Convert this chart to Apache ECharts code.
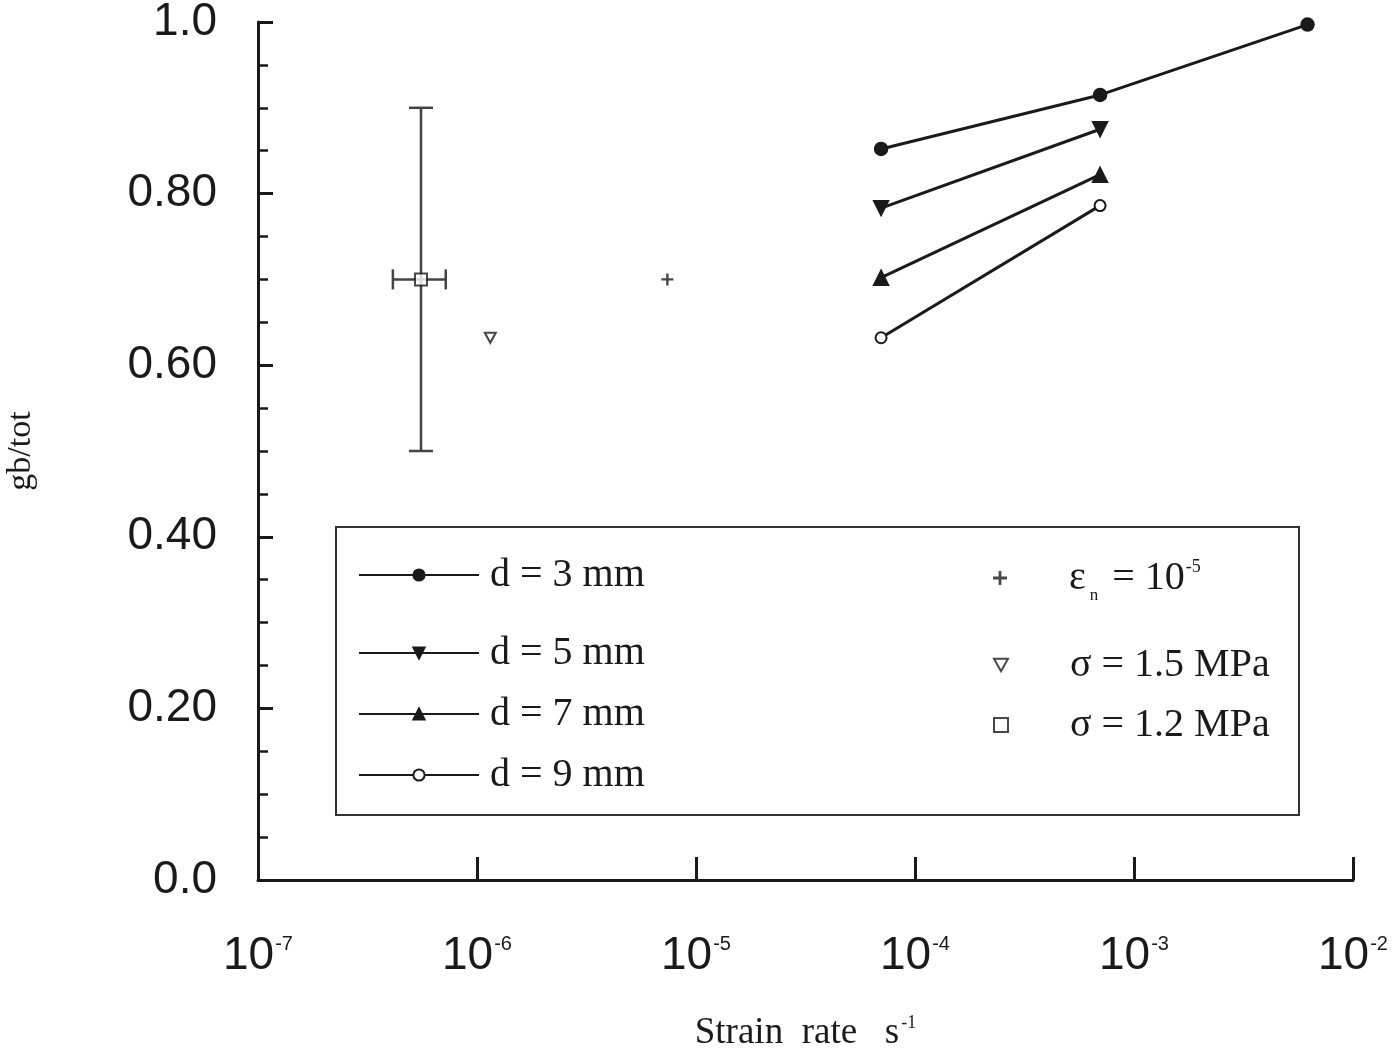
<!DOCTYPE html>
<html>
<head>
<meta charset="utf-8">
<script src="https://cdn.jsdelivr.net/npm/echarts@6/dist/echarts.min.js"></script>
<style>
  html, body { margin: 0; padding: 0; background: #fff; }
  #main { width: 1400px; height: 1057px; }
</style>
</head>
<body>
<div id="main"></div>
<script>
// 数据：应变率 (s^-1) 与 gb/tot
var rates = [7.0e-5, 7.0e-4, 6.2e-3];
var d3mm = [0.852, 0.915, 0.997];
var d5mm = [0.783, 0.875];
var d7mm = [0.702, 0.822];
var d9mm = [0.632, 0.786];

var plusPoint = [7.4e-6, 0.70];        // ε_n = 10^-5
var sigma15Point = [1.15e-6, 0.632];   // σ = 1.5 MPa
var sigma12Point = [5.55e-7, 0.70];    // σ = 1.2 MPa
var sigma12ErrX = [4.13e-7, 7.2e-7];
var sigma12ErrY = [0.50, 0.90];

var xTickExps = ['-7', '-6', '-5', '-4', '-3', '-2'];
var yTickLabels = ['0.0', '0.20', '0.40', '0.60', '0.80', '1.0'];

var ink = '#1a1a1a';
var serif = '"Liberation Serif", "DejaVu Serif", serif';
var sans = '"Liberation Sans", Arial, sans-serif';

function pairs(xs, ys) {
  var out = [];
  for (var i = 0; i < ys.length; i++) out.push([xs[i], ys[i]]);
  return out;
}

function lineSeries(name, ys, symbol, size, rotate) {
  return {
    name: name,
    type: 'line',
    data: pairs(rates, ys),
    symbol: symbol,
    symbolSize: size,
    symbolRotate: rotate || 0,
    showAllSymbol: true,
    color: ink,
    lineStyle: { color: ink, width: 3 },
    itemStyle: { color: ink, borderColor: ink, borderWidth: 1.5 },
    z: 3
  };
}

var legendText = {
  fontFamily: serif,
  fontSize: 40,
  color: ink
};

function oneLegend(name, top) {
  return {
    data: [name],
    left: 358,
    top: top,
    itemWidth: 120,
    itemHeight: 14,
    selectedMode: false,
    padding: 0,
    textStyle: Object.assign({}, legendText, { padding: [0, 0, 0, 6] })
  };
}

function rightLegend(name, top, extra) {
  var lg = {
    data: [name],
    left: 993,
    top: top,
    itemWidth: 14,
    itemHeight: 14,
    selectedMode: false,
    padding: 0,
    textStyle: Object.assign({}, legendText, { padding: [0, 0, 0, 57] })
  };
  if (extra) Object.assign(lg, extra);
  return lg;
}

var chart = echarts.init(document.getElementById('main'));

chart.setOption({
  backgroundColor: '#fff',
  animation: false,
  grid: { left: 258, right: 47, top: 22, bottom: 177, outerBoundsMode: 'none', containLabel: false },
  graphic: [{
    type: 'rect',
    shape: { x: 336, y: 527, width: 963, height: 288 },
    style: { fill: 'none', stroke: '#333', lineWidth: 2 },
    z: 1
  }],
  legend: [
    oneLegend('d = 3 mm', 555),
    oneLegend('d = 5 mm', 633),
    oneLegend('d = 7 mm', 694),
    oneLegend('d = 9 mm', 755),
    rightLegend('plus', 552, {
      formatter: function () {
        return '{m|ε}{n|n}{m| = 10}{e|-5}';
      },
      textStyle: Object.assign({}, legendText, {
        padding: [0, 0, 0, 57],
        rich: {
          m: { fontFamily: serif, fontSize: 40, color: ink, lineHeight: 52 },
          n: { fontFamily: serif, fontSize: 17, color: ink, lineHeight: 17, verticalAlign: 'bottom', padding: [0, 4, 0, 4] },
          e: { fontFamily: serif, fontSize: 18, color: ink, lineHeight: 18, verticalAlign: 'top', padding: [6, 0, 0, 1] }
        }
      })
    }),
    rightLegend('σ = 1.5 MPa', 645),
    rightLegend('σ = 1.2 MPa', 705)
  ],
  xAxis: {
    type: 'log',
    logBase: 10,
    min: 1e-7,
    max: 1e-2,
    splitLine: { show: false },
    axisLine: { onZero: false, lineStyle: { color: ink, width: 3 } },
    axisTick: { inside: true, length: 23, lineStyle: { color: ink, width: 3 } },
    axisLabel: {
      margin: 51,
      formatter: function (v) {
        var exp = Math.round(Math.log10(v));
        return '{b|10}{s|' + xTickExps[exp + 7] + '}';
      },
      rich: {
        b: { fontFamily: sans, fontSize: 46, color: ink, lineHeight: 50 },
        s: { fontFamily: sans, fontSize: 20, color: ink, lineHeight: 20, verticalAlign: 'top', padding: [3, 0, 0, 1] }
      }
    },
    name: '{t|Strain  rate   s}{e|-1}',
    nameLocation: 'middle',
    nameGap: 133,
    nameTextStyle: {
      rich: {
        t: { fontFamily: serif, fontSize: 37, color: ink, lineHeight: 40 },
        e: { fontFamily: serif, fontSize: 18, color: ink, lineHeight: 18, verticalAlign: 'top', padding: [1, 0, 0, 2] }
      }
    }
  },
  yAxis: {
    type: 'value',
    min: 0,
    max: 1,
    interval: 0.2,
    splitLine: { show: false },
    axisLine: { lineStyle: { color: ink, width: 3 } },
    axisTick: { inside: true, length: 15, lineStyle: { color: ink, width: 3 } },
    minorTick: { show: true, splitNumber: 4, length: 10, lineStyle: { color: ink, width: 2.5 } },
    axisLabel: {
      margin: 41,
      fontFamily: sans,
      fontSize: 46,
      color: ink,
      formatter: function (v) {
        return yTickLabels[Math.round(v / 0.2)];
      }
    },
    name: 'gb/tot',
    nameLocation: 'middle',
    nameGap: 220,
    nameTextStyle: { fontFamily: serif, fontSize: 34, color: ink }
  },
  series: [
    lineSeries('d = 3 mm', d3mm, 'circle', 13),
    lineSeries('d = 5 mm', d5mm, 'triangle', 15, 180),
    lineSeries('d = 7 mm', d7mm, 'triangle', 15),
    lineSeries('d = 9 mm', d9mm, 'emptyCircle', 11),
    {
      name: 'plus',
      type: 'scatter',
      data: [plusPoint],
      symbol: 'path://M4,0H6V4H10V6H6V10H4V6H0V4H4Z',
      symbolSize: 12,
      itemStyle: { color: ink },
      z: 3
    },
    {
      name: 'σ = 1.5 MPa',
      type: 'scatter',
      data: [sigma15Point],
      symbol: 'path://M0,0L10,0L5,9Z',
      symbolSize: [11, 10],
      itemStyle: { color: '#fff', borderColor: ink, borderWidth: 2 },
      z: 3
    },
    {
      name: 'σ = 1.2 MPa',
      type: 'scatter',
      data: [sigma12Point],
      symbol: 'emptyRect',
      symbolSize: 12,
      itemStyle: { color: ink, borderWidth: 2 },
      z: 4
    },
    {
      name: 'err',
      type: 'custom',
      data: [[sigma12Point[0], sigma12Point[1], sigma12ErrX[0], sigma12ErrX[1], sigma12ErrY[0], sigma12ErrY[1]]],
      renderItem: function (params, api) {
        var c = api.coord([api.value(0), api.value(1)]);
        var xl = api.coord([api.value(2), api.value(1)]);
        var xh = api.coord([api.value(3), api.value(1)]);
        var yl = api.coord([api.value(0), api.value(4)]);
        var yh = api.coord([api.value(0), api.value(5)]);
        var st = { stroke: '#444', lineWidth: 2.5 };
        var cap = 12;
        var lines = [
          [yl[0], yl[1], yh[0], yh[1]],
          [yl[0] - cap, yl[1], yl[0] + cap, yl[1]],
          [yh[0] - cap, yh[1], yh[0] + cap, yh[1]],
          [xl[0], c[1], xh[0], c[1]],
          [xl[0], c[1] - 10, xl[0], c[1] + 10],
          [xh[0], c[1] - 10, xh[0], c[1] + 10]
        ];
        return {
          type: 'group',
          children: lines.map(function (l) {
            return { type: 'line', shape: { x1: l[0], y1: l[1], x2: l[2], y2: l[3] }, style: st };
          })
        };
      },
      z: 2
    }
  ]
});
</script>
</body>
</html>
